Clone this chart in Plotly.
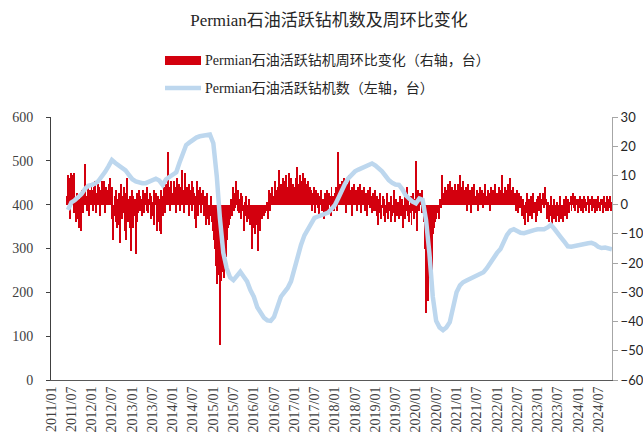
import pandas as pd
import plotly.graph_objects as go

# weekly change of Permian oil rigs (right axis), one list per year, weeks from 2011-05-27
chg_2011 = [3, 10, 9, -5, 11, 4, 10, 6, 11, -3, 2, -6, 4, -5, 3, -8, 2, -9,
            3, 5, -3, 4, 2, 14, 3, -2, 6, 2, -4, 5, 3, 7]
chg_2012 = [5, -2, 6, 3, 8, -3, 4, 7, 2, 6, -4, 5, 3, 8, 4, 8, 2, -3, 6, 5,
            3, 7, 2, 9, 4, -5, 6, -12, -4, 3, -6, 5, -8, 2, -7, 4, -13, 7, -5, 3,
            -3, 6, -9, -12, 4, 9, -6, 2, -8, 3, -16, 5]
chg_2013 = [3, -8, -4, 2, -17, -6, 4, -3, 5, -2, 3, 2, -4, 5, 1, -3, 4, 2, -2, 6,
            -3, 2, 4, -5, 3, 1, -4, 5, -7, 2, 4, -9, 3, -6, 2, -9, 5, -10, 3, -4,
            6, 2, -3, 7, 4, 18, 3, 6, -2, 8, 5, 3]
chg_2014 = [4, 8, 2, 6, -3, 9, 5, 3, 7, -2, 6, 4, 12, 5, -3, 8, 11, 4, 6, 2,
            7, -4, 5, 3, 8, -2, 6, 4, -5, -8, 3, 8, -4, 5, 2, 6, -3, 4, 1, 5,
            -4, 3, -7, 2, 4, -5, -7, -2, -4, 3, -6, -9]
chg_2015 = [-8, -12, -15, -21, -18, -27, -24, -22, -48, -30, -26, -23, -20, -25, -19, -14, -18, -10, -12, -8,
            -7, -5, -3, 2, -4, 6, -2, 4, -1, 8, 3, -2, 5, -3, 2, 4, -5, 3, -2, -9,
            1, -4, 3, -6, -2, -5, 2, -7, -3, -4, -15, -6]
chg_2016 = [-8, -5, -10, -4, -7, -3, -16, -6, -9, -4, -3, -5, -2, -4, -1, -3, -2, 1, -5, 3,
            5, -2, 4, 2, 6, 1, 3, 8, 2, 5, 3, 6, 2, 12, 4, 7, 3, 9, 5, 2,
            8, 4, 10, 3, 6, 11, 5, 2, 9, 4, 7, 3, 6]
chg_2017 = [6, 9, 4, 13, 7, 3, 10, 5, 8, 4, 11, 6, 3, 9, 5, 7, 2, 8, 4, 6,
            3, 5, -2, 4, 6, 1, -3, 5, 2, -1, 4, -4, 3, 1, 5, -2, 2, -5, 4, 1,
            -3, 5, 2, -2, 4, 3, -4, 6, 1, 3, -2, 4]
chg_2018 = [3, 6, -2, 5, 18, 4, 7, 2, 8, 3, 5, 9, 2, 6, -3, 7, 4, 10, 3, 5,
            2, 6, -4, 4, 7, 1, 5, 3, -2, 6, 4, 2, 7, -3, 5, 3, 1, 6, -2, 4,
            3, -4, 5, 2, 6, -1, 3, -3, 4, 2, -2, 5]
chg_2019 = [-2, 3, -4, -7, 2, -3, 4, -5, -1, 3, -4, 2, -6, -2, 4, -3, -5, 1, -2, -6,
            3, -4, -2, 5, -3, -6, 2, -4, 1, -3, -5, 3, -2, -4, 2, -8, -3, 4, -5, -2,
            6, -4, 2, -6, -3, 3, -7, -2, 4, -5, -3, 2]
chg_2020 = [15, -9, 3, 5, -2, 4, 3, -3, 5, 2, -6, -13, -15, -37, -28, -33, -25, -22, -18, -14,
            -23, -12, -10, -8, -6, -5, -4, -3, -2, -5, -3, 2, -1, 10, 3, 1, 4, 6, 2, 5,
            3, 7, 2, 5, 8, 4, 6, 2, 5, 3, 7, 4]
chg_2021 = [5, 3, 7, 2, 10, 4, 6, 3, 8, 2, 5, 3, 6, -2, 4, 7, 2, 5, -3, 3,
            6, 2, 4, 7, 1, 3, 5, -2, 4, 2, 6, 3, 1, 5, -1, 4, 2, 7, 3, 1,
            5, 2, 4, -2, 6, 3, 1, 5, 2, 7, 3, 4, 2]
chg_2022 = [4, 2, 6, 3, 5, 1, 10, 4, 2, 6, 3, 5, 2, 7, 1, 4, 9, 3, 5, 2,
            6, 1, 4, -2, 3, 5, -3, 2, 4, -1, 3, -4, 2, -2, -5, -7, 1, -3, 4, -6,
            2, -4, -1, 3, -5, -2, 4, -3, 1, -6, 2, -4]
chg_2023 = [3, -2, 4, 1, -3, 2, 4, -1, 3, 6, 2, -3, -5, 1, -6, -2, 3, -4, -7, -1,
            2, -5, -3, -6, 1, -4, -2, -6, 3, -5, -3, -1, -6, 2, -4, -2, 3, -5, -1, 2,
            -3, 1, 3, -2, 2, 4, -1, 3, -2, 2, 1, -3]
chg_2024 = [2, -1, 3, -2, 1, 2, -3, 3, -1, 2, -2, 1, 3, -1, -3, 2, 1, -2, 3, -1,
            2, -3, 1, 2, -2, 3, -1, 1, -2, 2, 1, -3, 2, 3, -1, -2, 1, 3, -2, 2,
            -1, 3, -2, 1]

# Permian oil rig count (left axis), month starts from 2011-06
rig_count = [388, 405, 410, 416, 424, 436, 443,
             445, 448, 454, 463, 475, 488, 502, 495, 490, 486, 478, 468,
             458, 453, 450, 449, 449, 452, 455, 459, 455, 445, 458, 463,
             466, 474, 495, 515, 536, 542, 548, 553, 556, 558, 559, 560,
             540, 465, 370, 290, 255, 234, 228, 238, 247, 236, 225, 205,
             190, 166, 152, 142, 136, 135, 144, 165, 190, 200, 210, 225,
             255, 281, 308, 330, 345, 360, 370, 373, 376, 378, 382, 390,
             399, 415, 432, 447, 460, 470, 476, 480, 483, 486, 489, 494,
             489, 483, 476, 466, 456, 450, 446, 445, 435, 421, 413, 407,
             403, 414, 411, 365, 290, 190, 135, 120, 114, 120, 132, 170,
             200, 216, 223, 227, 231, 235, 239, 243, 246, 255, 268, 280,
             290, 299, 315, 331, 341, 344, 340, 336, 335, 338, 341, 342,
             344, 345, 344, 348, 354, 345, 333, 325, 315, 305, 304, 306,
             307, 309, 310, 312, 313, 310, 304, 301, 302, 299, 298]

tick_years = list(range(2011, 2025))
tick_dates = [f"{y}-{m:02d}-01" for y in tick_years for m in (1, 7)]
tick_text = [f"{y}/{m:02d}" for y in tick_years for m in (1, 7)]

weekly_change = (chg_2011 + chg_2012 + chg_2013 + chg_2014 + chg_2015 + chg_2016 + chg_2017
                 + chg_2018 + chg_2019 + chg_2020 + chg_2021 + chg_2022 + chg_2023 + chg_2024)
week_dates = pd.date_range("2011-05-27", periods=len(weekly_change), freq="7D")
rig_months = pd.date_range("2011-06-01", periods=len(rig_count), freq="MS")

RED = "#D3000E"
BLUE = "#BDD7EE"
SERIF = "Liberation Serif, Times New Roman, Noto Sans CJK SC, serif"

W, H = 643, 441
PLOT_L, PLOT_R, PLOT_T, PLOT_B = 51, 612, 117, 380  # plot area in pixels

fig = go.Figure()
fig.add_trace(go.Bar(
    x=week_dates, y=weekly_change, yaxis="y",
    marker=dict(color=RED, line=dict(width=0)),
    width=9 * 86400000, showlegend=False,
    name="Permian石油活跃钻机周环比变化（右轴，台）"))
fig.add_trace(go.Scatter(
    x=rig_months, y=rig_count, yaxis="y2", mode="lines",
    line=dict(color=BLUE, width=4.5), showlegend=False,
    name="Permian石油活跃钻机数（左轴，台）"))

def px(x):
    return (x - PLOT_L) / (PLOT_R - PLOT_L)

def py(y):
    return (PLOT_B - y) / (PLOT_B - PLOT_T)

fig.add_shape(type="rect", xref="paper", yref="paper",
              x0=px(165), x1=px(201), y0=py(65), y1=py(56),
              fillcolor=RED, line=dict(width=0))
fig.add_shape(type="line", xref="paper", yref="paper",
              x0=px(165), x1=px(201), y0=py(88), y1=py(88),
              line=dict(color=BLUE, width=4.5))
fig.add_annotation(xref="paper", yref="paper", x=px(203), y=py(61),
                   xanchor="left", yanchor="middle", showarrow=False,
                   text="Permian石油活跃钻机周环比变化（右轴，台）",
                   font=dict(family=SERIF, size=14, color="#262626"))
fig.add_annotation(xref="paper", yref="paper", x=px(203), y=py(88),
                   xanchor="left", yanchor="middle", showarrow=False,
                   text="Permian石油活跃钻机数（左轴，台）",
                   font=dict(family=SERIF, size=14, color="#262626"))

fig.update_layout(
    width=W, height=H,
    margin=dict(l=PLOT_L, r=W - PLOT_R, t=PLOT_T, b=H - PLOT_B),
    paper_bgcolor="white", plot_bgcolor="white",
    bargap=0,
    title=dict(text="Permian石油活跃钻机数及周环比变化", x=329 / W, xanchor="center",
               y=1 - 20 / H, yanchor="middle",
               font=dict(family=SERIF, size=17, color="#262626")),
    xaxis=dict(type="date", range=["2010-12-30", "2024-11-02"], automargin=False,
               tickmode="array", tickvals=tick_dates, ticktext=tick_text,
               tickangle=-90, ticks="", showgrid=False,
               showline=True, linecolor="#595959", linewidth=1,
               tickfont=dict(family=SERIF, size=14, color="#404040")),
    yaxis=dict(side="right", range=[-60, 30], dtick=10, showgrid=False, zeroline=False,
               automargin=False,
               showline=True, linecolor="#A6A6A6", linewidth=1,
               ticks="outside", ticklen=5, tickcolor="#A6A6A6",
               tickfont=dict(family="Lato, Liberation Sans, sans-serif", size=13, color="#262626")),
    yaxis2=dict(side="left", overlaying="y", range=[0, 600], dtick=100,
                showgrid=False, zeroline=False, automargin=False,
                showline=True, linecolor="#404040", linewidth=1,
                ticks="outside", ticklen=4, tickcolor="#404040",
                ticklabelstandoff=10,
                tickfont=dict(family=SERIF, size=14, color="#404040")),
)

# drop the browser's default 8px body margin so the figure fills the window exactly
fig.write_html("out.html", config={"displayModeBar": False}, post_script=(
    "document.body.style.margin = '0';"
    "document.documentElement.style.overflow = 'hidden';"))
